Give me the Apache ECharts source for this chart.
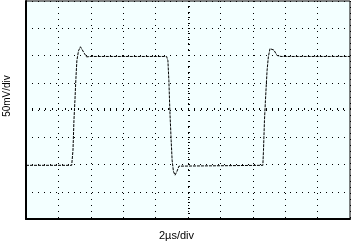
<!DOCTYPE html>
<html>
<head>
<meta charset="utf-8">
<script src="https://cdn.jsdelivr.net/npm/echarts@6/dist/echarts.min.js"></script>
<style>
html,body{margin:0;padding:0;background:#fff;}
#c{width:353px;height:244px;}
</style>
</head>
<body>
<div id="c"></div>
<script>
// time in divisions relative to screen centre (2 µs/div)
const timeDiv = [-5, -3.59, -3.55, -3.52, -3.49, -3.46, -3.43, -3.38, -3.32, -3.27, -3.19, -3.13, -3.0,
  -0.66, -0.62, -0.59, -0.56, -0.52, -0.49, -0.45, -0.40, -0.34, -0.28, -0.22,
  2.31, 2.33, 2.36, 2.39, 2.44, 2.48, 2.53, 2.59, 2.65, 2.75, 2.81, 2.87, 5];
// voltage in divisions (50 mV/div)
const voltDiv = [-2.03, -2.03, -1.48, -0.38, 0.35, 1.15, 1.81, 2.17, 2.32, 2.25, 2.06, 1.95, 1.965,
  1.965, 1.81, 1.08, -0.02, -1.11, -1.84, -2.25, -2.39, -2.25, -2.06, -2.03,
  -2.03, -1.48, -0.38, 0.35, 1.44, 1.95, 2.25, 2.32, 2.2, 2.0, 1.93, 1.965, 1.965];
const xTitle = '2\u00b5s/div';
const yTitle = '50mV/div';

const trace = timeDiv.map((t, i) => [t, voltDiv[i]]);
const dotGrid = { show: true, lineStyle: { color: '#000', width: 1, type: [1, 5] } };

const chart = echarts.init(document.getElementById('c'), null, { renderer: 'canvas' });
chart.setOption({
  animation: false,
  backgroundColor: '#ffffff',
  grid: { left: 26, right: 3, top: 1, bottom: 25, show: true, backgroundColor: '#F3FFFF', borderColor: '#000', borderWidth: 1 },
  xAxis: [
    { type: 'value', min: -5, max: 5, interval: 1, position: 'bottom',
      axisLine: { show: true, onZero: false, lineStyle: { color: '#000', width: 2 } },
      axisTick: { show: false }, axisLabel: { show: false }, splitLine: dotGrid },
    { type: 'value', min: -5, max: 5, interval: 1, position: 'top',
      axisLine: { show: true, onZero: true, lineStyle: { color: '#000', opacity: 0 } },
      axisTick: { show: true, length: 2, lineStyle: { color: '#000' } },
      minorTick: { show: true, splitNumber: 5, length: 2, lineStyle: { color: '#000' } },
      axisLabel: { show: false }, splitLine: { show: false } }
  ],
  yAxis: [
    { type: 'value', min: -4, max: 4, interval: 1, position: 'left',
      axisLine: { show: true, onZero: false, lineStyle: { color: '#000', width: 2 } },
      axisTick: { show: false }, axisLabel: { show: false }, splitLine: dotGrid },
    { type: 'value', min: -4, max: 4, interval: 1, position: 'right',
      axisLine: { show: true, onZero: true, onZeroAxisIndex: 0, lineStyle: { color: '#000', opacity: 0 } },
      axisTick: { show: true, length: 2, lineStyle: { color: '#000' } },
      minorTick: { show: true, splitNumber: 5, length: 2, lineStyle: { color: '#000' } },
      axisLabel: { show: false }, splitLine: { show: false } }
  ],
  graphic: [
    { type: 'text', left: 'center', top: 230, style: { text: xTitle, font: '11px "Liberation Sans", Arial, sans-serif', fill: '#000' } },
    { type: 'text', x: 2, y: 96, rotation: Math.PI / 2, style: { text: yTitle, font: '10px "Liberation Sans", Arial, sans-serif', fill: '#000', align: 'center', verticalAlign: 'top' } }
  ],
  series: [{
    type: 'line', xAxisIndex: 0, yAxisIndex: 0, data: trace, showSymbol: false, smooth: false,
    lineStyle: { color: '#000', width: 1, type: [3, 1] }
  }]
});
</script>
</body>
</html>
